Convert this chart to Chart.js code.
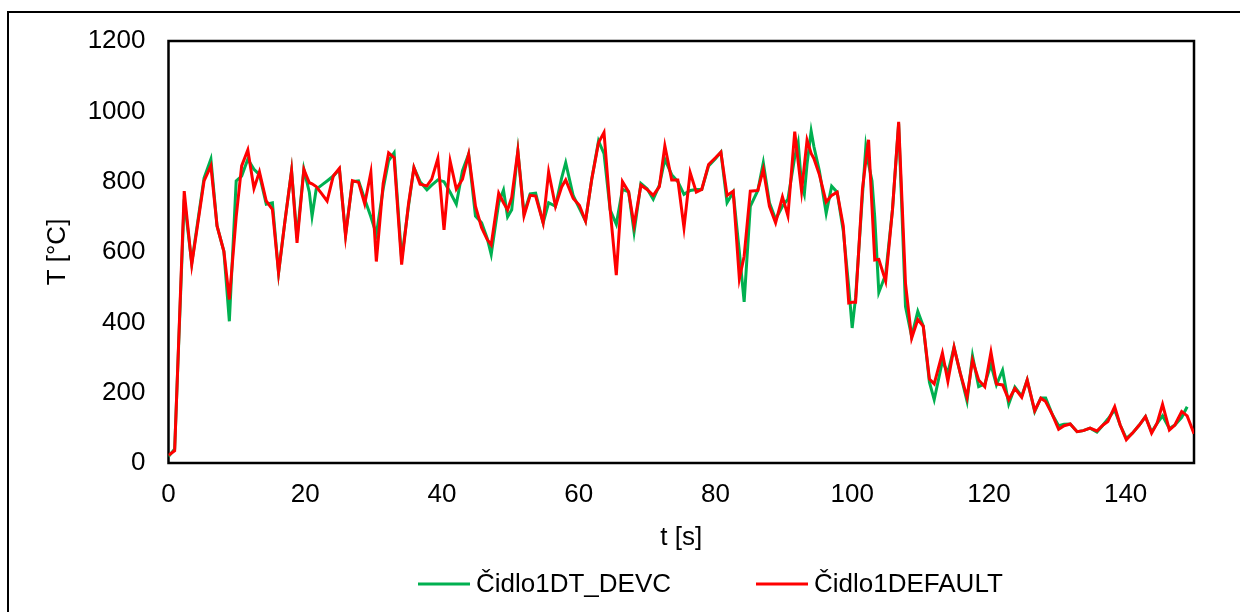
<!DOCTYPE html>
<html>
<head>
<meta charset="utf-8">
<title>Čidlo1 – teplota</title>
<script src="https://cdn.jsdelivr.net/npm/chart.js@4/dist/chart.umd.min.js"></script>
<style>
  html, body { margin: 0; padding: 0; background: #fff; }
  #wrap { position: relative; width: 1240px; height: 612px; overflow: hidden; }
  canvas { display: block; }
</style>
</head>
<body>
<div id="wrap"><canvas id="c" width="1240" height="612"></canvas></div>
<script>
// time stamps of the device records [s]
const times = [
  0, 0.9, 2.3, 3.4, 5.2, 6.2, 7.1, 8.1, 8.9, 9.9,
  10.7, 11.6, 12.5, 13.3, 14.3, 15.2, 16.1, 17.0, 18.0, 18.8,
  19.8, 20.6, 21.0, 21.6, 22.4, 23.2, 24.1, 25.0, 25.9, 26.9,
  27.8, 28.7, 29.6, 30.4, 31.4, 32.2, 33.0, 34.1, 35.1, 35.9,
  36.8, 37.8, 38.5, 39.4, 40.3, 41.2, 42.1, 43.0, 43.9, 44.9,
  45.8, 46.6, 47.2, 48.3, 49.0, 49.6, 50.2, 51.1, 52.0, 52.9,
  53.7, 54.8, 55.6, 56.6, 57.5, 58.1, 59.2, 60.1, 61.0, 61.9,
  62.9, 63.7, 64.6, 65.5, 66.4, 67.3, 68.1, 69.1, 70.0, 70.9,
  71.8, 72.6, 73.6, 74.5, 75.4, 76.3, 77.2, 78.0, 79.0, 80.0,
  80.8, 81.7, 82.6, 83.5, 84.2, 85.1, 86.2, 87.0, 87.9, 88.8,
  89.8, 90.6, 91.6, 92.1, 92.6, 93.0, 93.4, 94.0, 94.4, 95.2,
  96.2, 97.0, 97.8, 98.7, 99.5, 100.0, 100.5, 101.5, 102.0, 102.4,
  102.9, 103.3, 103.9, 104.9, 105.9, 106.8, 107.8, 108.7, 109.6, 110.4,
  111.3, 112.0, 113.2, 114.0, 114.9, 115.8, 116.8, 117.6, 118.5, 119.4,
  120.3, 121.1, 122.0, 122.9, 123.8, 124.8, 125.6, 126.7, 127.6, 128.3,
  129.3, 130.2, 131.0, 131.9, 132.9, 133.8, 134.8, 135.8, 136.7, 137.4,
  138.4, 139.2, 140.1, 141.0, 142.0, 142.9, 143.8, 144.6, 145.4, 146.4,
  147.2, 148.2, 149.0, 150.0
];

// Čidlo1DT_DEVC [°C]
const devcTemps = [
  18, 40, 750, 569, 810, 864, 674, 602, 403, 802,
  816, 864, 835, 820, 736, 740, 541, 683, 831, 640,
  835, 770, 702, 778, 790, 802, 816, 835, 650, 800,
  802, 750, 700, 650, 780, 860, 882, 580, 730, 840,
  800, 777, 790, 805, 800, 770, 736, 831, 878, 702,
  683, 640, 593, 740, 776, 700, 720, 887, 710, 765,
  767, 683, 740, 730, 810, 854, 760, 724, 688, 806,
  916, 880, 720, 679, 778, 771, 657, 795, 780, 750,
  790, 864, 820, 800, 764, 775, 778, 778, 845, 865,
  884, 740, 770, 600, 458, 730, 775, 854, 740, 693,
  730, 750, 870, 911, 790, 764, 850, 944, 900, 831,
  710, 787, 770, 660, 500, 384, 470, 760, 900, 850,
  802, 700, 485, 536, 721, 965, 445, 360, 431, 389,
  230, 180, 290, 256, 329, 256, 176, 305, 217, 225,
  280, 222, 264, 168, 216, 190, 236, 146, 185, 185,
  137, 106, 110, 111, 89, 92, 99, 88, 108, 125,
  151, 108, 70, 85, 108, 132, 88, 113, 134, 98,
  108, 130, 160, null
];

// Čidlo1DEFAULT [°C]
const defaultTemps = [
  22, 35, 773, 564, 802, 845, 674, 602, 465, 700,
  845, 890, 781, 828, 745, 721, 541, 683, 831, 626,
  835, 797, 794, 786, 766, 745, 816, 838, 645, 803,
  798, 737, 826, 573, 795, 882, 868, 564, 736, 840,
  793, 788, 807, 866, 663, 858, 779, 807, 878, 730,
  669, 636, 620, 767, 740, 720, 755, 887, 703, 761,
  759, 683, 828, 730, 785, 805, 752, 733, 688, 806,
  911, 940, 721, 534, 800, 771, 676, 790, 778, 761,
  786, 902, 805, 805, 669, 826, 770, 778, 849, 868,
  884, 761, 773, 524, 588, 773, 775, 835, 730, 683,
  757, 703, 942, 857, 773, 845, 918, 880, 866, 820,
  742, 761, 770, 674, 455, 457, 457, 778, 860, 919,
  729, 577, 579, 517, 721, 970, 511, 355, 408, 389,
  239, 225, 313, 232, 329, 256, 187, 293, 236, 217,
  315, 225, 222, 180, 212, 187, 236, 149, 184, 175,
  137, 96, 106, 111, 89, 92, 99, 91, 108, 118,
  160, 108, 66, 85, 108, 132, 85, 113, 167, 94,
  108, 146, 134, 83
];

const seriesNames = ['Čidlo1DT_DEVC', 'Čidlo1DEFAULT'];
const seriesColors = ['#00B050', '#FF0000'];
const xTitle = 't [s]';
const yTitle = 'T [°C]';

const FONT = { family: '"Liberation Sans", Arial, sans-serif', size: 26 };

function toPoints(values) {
  return times.map((t, i) => ({ x: t, y: values[i] }));
}

// plain integer tick labels (no digit grouping)
const plainLabel = (value) => String(value);

// outer frame of the chart object and the box around the plot area
const framePlugin = {
  id: 'frames',
  beforeDraw(chart) {
    const ctx = chart.ctx;
    ctx.save();
    ctx.strokeStyle = '#000';
    ctx.lineWidth = 2;
    ctx.beginPath();
    ctx.moveTo(8, 612);
    ctx.lineTo(8, 12);
    ctx.lineTo(1240, 12);
    ctx.stroke();
    ctx.restore();
  },
  beforeDatasetsDraw(chart) {
    const a = chart.chartArea;
    const ctx = chart.ctx;
    ctx.save();
    ctx.strokeStyle = '#000';
    ctx.lineWidth = 2.5;
    ctx.strokeRect(a.left, a.top, a.right - a.left, a.bottom - a.top);
    ctx.restore();
  }
};

// series key under the axis title
const keyPlugin = {
  id: 'seriesKey',
  afterDraw(chart) {
    const ctx = chart.ctx;
    const y = 585;
    const starts = [418, 756];
    ctx.save();
    ctx.font = FONT.size + 'px ' + FONT.family;
    ctx.textBaseline = 'middle';
    ctx.textAlign = 'left';
    chart.data.datasets.forEach((ds, i) => {
      ctx.strokeStyle = ds.borderColor;
      ctx.lineWidth = 3;
      ctx.beginPath();
      ctx.moveTo(starts[i], y - 1);
      ctx.lineTo(starts[i] + 52, y - 1);
      ctx.stroke();
      ctx.fillStyle = '#000';
      ctx.fillText(ds.label, starts[i] + 58, y);
    });
    ctx.restore();
  }
};

new Chart(document.getElementById('c'), {
  type: 'line',
  data: {
    datasets: [
      {
        label: seriesNames[0],
        data: toPoints(devcTemps),
        borderColor: seriesColors[0],
        backgroundColor: seriesColors[0],
        borderWidth: 3,
        pointRadius: 0,
        tension: 0,
        fill: false,
        order: 1
      },
      {
        label: seriesNames[1],
        data: toPoints(defaultTemps),
        borderColor: seriesColors[1],
        backgroundColor: seriesColors[1],
        borderWidth: 3,
        pointRadius: 0,
        tension: 0,
        fill: false,
        order: 0
      }
    ]
  },
  options: {
    responsive: false,
    animation: false,
    devicePixelRatio: 1,
    layout: { padding: { left: 20, top: 41, right: 46, bottom: 54 } },
    plugins: {
      legend: { display: false },
      tooltip: { enabled: false }
    },
    scales: {
      x: {
        type: 'linear',
        min: 0,
        max: 150,
        grid: { display: false, drawTicks: false },
        border: { display: false },
        ticks: { stepSize: 20, includeBounds: false, padding: 16, color: '#000', font: FONT, maxRotation: 0, callback: plainLabel },
        title: { display: true, text: xTitle, color: '#000', font: FONT, padding: { top: 0, bottom: 5 } },
        afterFit(scale) { scale.height = 95; }
      },
      y: {
        type: 'linear',
        min: 0,
        max: 1200,
        grid: { display: false, drawTicks: false },
        border: { display: false },
        ticks: { stepSize: 200, padding: 23, color: '#000', font: FONT, callback: plainLabel },
        title: { display: true, text: yTitle, color: '#000', font: FONT, padding: { top: 22, bottom: 0 } },
        afterFit(scale) { scale.width = 148.5; }
      }
    }
  },
  plugins: [framePlugin, keyPlugin]
});
</script>
</body>
</html>
